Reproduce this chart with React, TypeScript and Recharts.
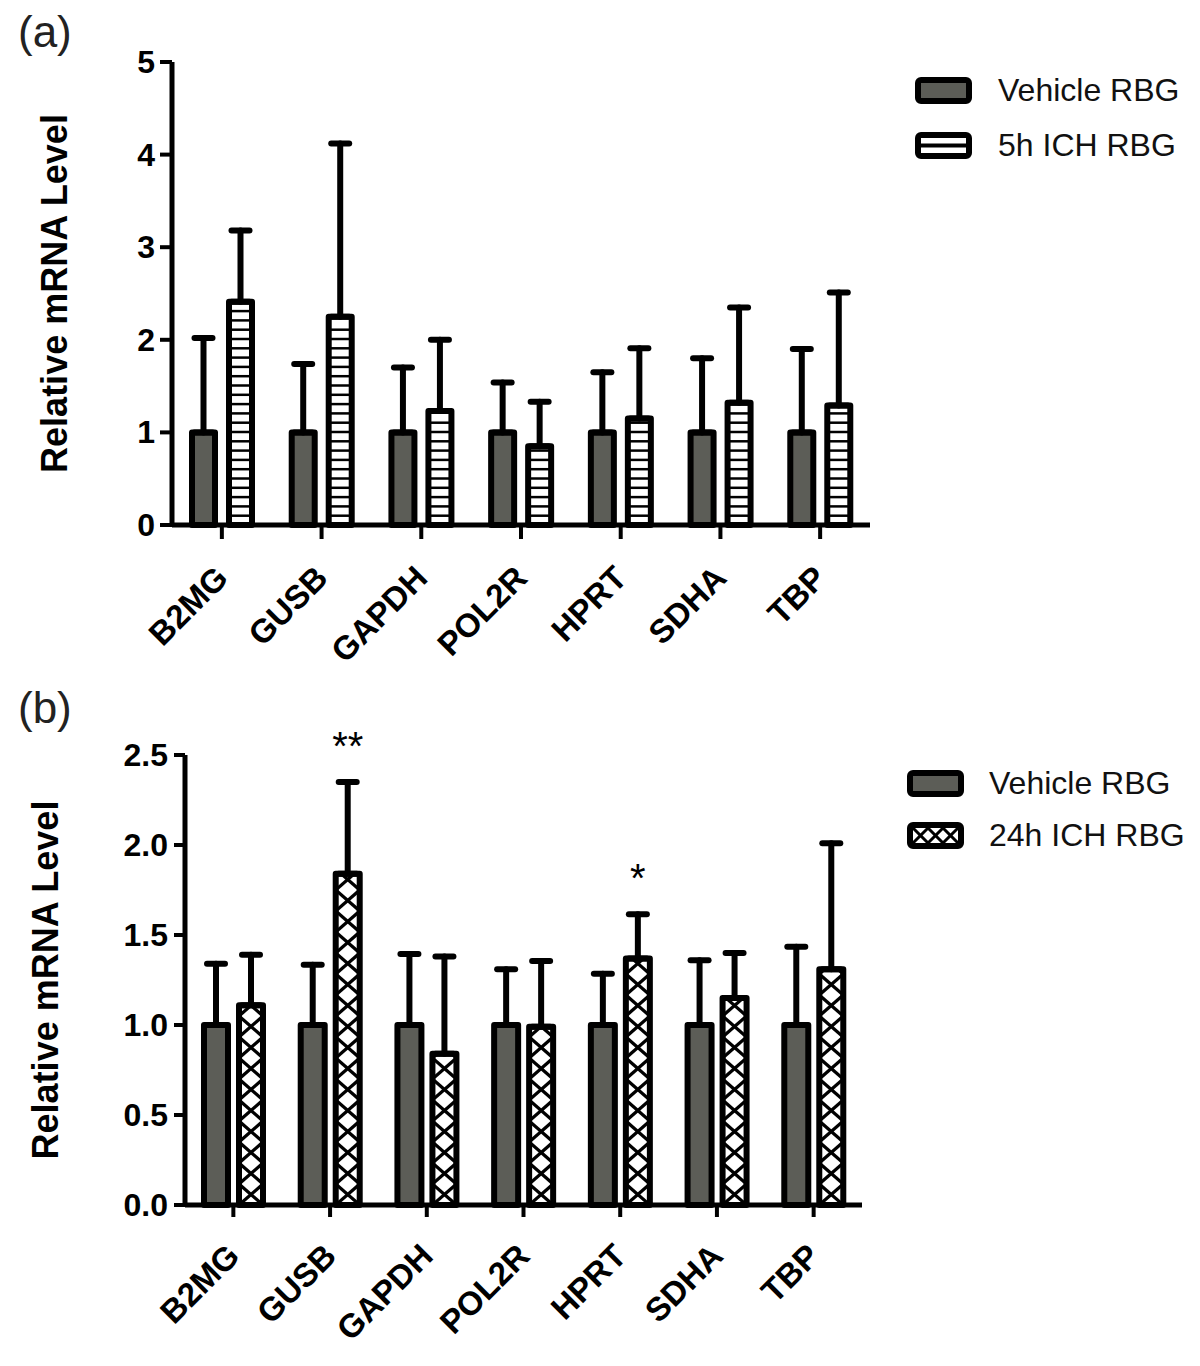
import React from 'react'
import { BarChart, Bar, XAxis, YAxis, ErrorBar, Legend, LabelList } from 'recharts'

const genes = ['B2MG', 'GUSB', 'GAPDH', 'POL2R', 'HPRT', 'SDHA', 'TBP']

// (a) vehicle vs 5h ICH
const vehicleA = [1, 1, 1, 1, 1, 1, 1]
const vehicleErrA = [1.02, 0.74, 0.7, 0.54, 0.65, 0.8, 0.9]
const ich5h = [2.41, 2.25, 1.23, 0.85, 1.15, 1.32, 1.29]
const ich5hErr = [0.77, 1.87, 0.77, 0.48, 0.76, 1.03, 1.22]

// (b) vehicle vs 24h ICH
const vehicleB = [1, 1, 1, 1, 1, 1, 1]
const vehicleErrB = [0.34, 0.335, 0.395, 0.31, 0.285, 0.36, 0.435]
const ich24h = [1.11, 1.84, 0.84, 0.99, 1.37, 1.15, 1.31]
const ich24hErr = [0.28, 0.51, 0.54, 0.365, 0.245, 0.25, 0.7]
const sig24h = ['', '**', '', '', '*', '', '']

const ticksA = [0, 1, 2, 3, 4, 5]
const ticksB = [0, 0.5, 1, 1.5, 2, 2.5]

const FONT = '"Liberation Sans", Arial, Helvetica, sans-serif'
const GREY = '#5c5d57'

const dataA = genes.map((g, i) => ({
    gene: g,
    vehicle: vehicleA[i],
    vehicleErr: [0, vehicleErrA[i]],
    ich: ich5h[i],
    ichErr: [0, ich5hErr[i]],
}))

const dataB = genes.map((g, i) => ({
    gene: g,
    vehicle: vehicleB[i],
    vehicleErr: [0, vehicleErrB[i]],
    ich: ich24h[i],
    ichErr: [0, ich24hErr[i]],
    sig: sig24h[i],
}))

function VehicleBar(props: any) {
    const { x, y, width, height } = props
    if (!height) return null
    return (
        <rect x={x} y={y} width={width} height={height} fill={GREY} stroke="#000" strokeWidth={6} strokeLinejoin="round" />
    )
}

function StripeBar(props: any) {
    const { x, y, width, height } = props
    if (!height) return null
    const bottom = y + height
    const lines = []
    for (let ly = bottom - 9.3; ly > y + 4; ly -= 9.3) {
        lines.push(<line key={ly} x1={x} x2={x + width} y1={ly} y2={ly} stroke="#000" strokeWidth={2.5} />)
    }
    return (
        <g>
            <rect x={x} y={y} width={width} height={height} fill="#fff" />
            {lines}
            <rect x={x} y={y} width={width} height={height} fill="none" stroke="#000" strokeWidth={6} strokeLinejoin="round" />
        </g>
    )
}

function CrossBar(props: any) {
    const { x, y, width, height, index } = props
    if (!height) return null
    const bottom = y + height
    const p = 21
    const id = `xclip-${index}`
    const lines = []
    for (let k = 0; bottom - k * p > y - p; k++) {
        const y0 = bottom - k * p
        const y1 = y0 - p
        lines.push(<line key={`a${k}`} x1={x} y1={y0} x2={x + width} y2={y1} stroke="#000" strokeWidth={3.2} />)
        lines.push(<line key={`b${k}`} x1={x + width} y1={y0} x2={x} y2={y1} stroke="#000" strokeWidth={3.2} />)
    }
    return (
        <g>
            <defs>
                <clipPath id={id}>
                    <rect x={x} y={y} width={width} height={height} />
                </clipPath>
            </defs>
            <rect x={x} y={y} width={width} height={height} fill="#fff" />
            <g clipPath={`url(#${id})`}>{lines}</g>
            <rect x={x} y={y} width={width} height={height} fill="none" stroke="#000" strokeWidth={6} strokeLinejoin="round" />
        </g>
    )
}

function GeneTick(props: any) {
    const { x, y, payload } = props
    return (
        <text
            transform={`translate(${x + 8},${y + 37}) rotate(-45)`}
            textAnchor="end"
            fontSize={33}
            fontWeight="bold"
            fontFamily={FONT}
            fill="#000"
        >
            {payload.value}
        </text>
    )
}

function makeValueTick(fmt: (v: number) => string) {
    return (props: any) => {
        const { x, y, payload } = props
        return (
            <text x={x} y={y} dy={11} textAnchor="end" fontSize={32} fontWeight="bold" fontFamily={FONT} fill="#000">
                {fmt(payload.value)}
            </text>
        )
    }
}

function yTitle(x: number) {
    return (props: any) => {
        const vb = props.viewBox
        const cy = vb.y + vb.height / 2
        return (
            <text
                x={x}
                y={cy}
                transform={`rotate(-90, ${x}, ${cy})`}
                textAnchor="middle"
                fontSize={36}
                fontWeight="bold"
                fontFamily={FONT}
                fill="#000"
            >
                Relative mRNA Level
            </text>
        )
    }
}

function Swatch({ kind }: { kind: string }) {
    return (
        <svg width={57} height={27} style={{ display: 'block' }}>
            {kind === 'vehicle' && <rect x={3} y={3} width={51} height={21} rx={3} fill={GREY} stroke="#000" strokeWidth={6} />}
            {kind === 'stripe' && (
                <g>
                    <rect x={3} y={3} width={51} height={21} rx={3} fill="#fff" stroke="#000" strokeWidth={6} />
                    <line x1={4} x2={53} y1={13.5} y2={13.5} stroke="#000" strokeWidth={4} />
                </g>
            )}
            {kind === 'cross' && (
                <g>
                    <rect x={3} y={3} width={51} height={21} rx={3} fill="#fff" stroke="#000" strokeWidth={6} />
                    <g stroke="#000" strokeWidth={3}>
                        <line x1={6} y1={6} x2={21} y2={21} />
                        <line x1={21} y1={6} x2={6} y2={21} />
                        <line x1={21} y1={6} x2={36} y2={21} />
                        <line x1={36} y1={6} x2={21} y2={21} />
                        <line x1={36} y1={6} x2={51} y2={21} />
                        <line x1={51} y1={6} x2={36} y2={21} />
                    </g>
                </g>
            )}
        </svg>
    )
}

function makeLegend(second: string, gap: number, rowGap: number) {
    return (props: any) => {
        const items = [...(props.payload || [])].sort((a: any, b: any) =>
            a.dataKey === 'vehicle' ? -1 : b.dataKey === 'vehicle' ? 1 : 0
        )
        return (
            <div style={{ fontFamily: FONT }}>
                {items.map((item: any, i: number) => (
                    <div key={item.value} style={{ display: 'flex', alignItems: 'center', height: 30, marginBottom: i === 0 ? rowGap : 0 }}>
                        <Swatch kind={item.dataKey === 'vehicle' ? 'vehicle' : second} />
                        <span style={{ marginLeft: gap, fontSize: 32, color: '#111', lineHeight: '30px' }}>{item.value}</span>
                    </div>
                ))}
            </div>
        )
    }
}

function SigLabel(props: any) {
    const { x, y, width, height, index } = props
    const mark = sig24h[index]
    if (!mark) return null
    const pxPerUnit = height / ich24h[index]
    const capY = y - ich24hErr[index] * pxPerUnit
    return (
        <text x={x + width / 2} y={capY - 22} textAnchor="middle" fontSize={40} fontFamily={FONT} fill="#000">
            {mark}
        </text>
    )
}

const errProps = { width: 9, stroke: '#000', strokeWidth: 6, strokeLinecap: 'round' as const, direction: 'y' as const }

export default function App() {
    return (
        <div style={{ position: 'absolute', left: 0, top: 0, width: 1200, height: 1366, background: '#fff', fontFamily: FONT }}>
            <div style={{ position: 'absolute', left: 18, top: 10, fontSize: 44, lineHeight: '44px', color: '#222' }}>(a)</div>
            <div style={{ position: 'absolute', left: 18, top: 686, fontSize: 44, lineHeight: '44px', color: '#222' }}>(b)</div>

            <div style={{ position: 'absolute', left: 0, top: 0 }}>
                <BarChart width={1200} height={680} data={dataA} margin={{ top: 62, right: 330, bottom: 95, left: 112 }} barSize={23} barGap={14}>
                    <XAxis
                        dataKey="gene"
                        height={60}
                        tick={<GeneTick />}
                        tickSize={14}
                        tickMargin={4}
                        axisLine={{ stroke: '#000', strokeWidth: 5 }}
                        tickLine={{ stroke: '#000', strokeWidth: 4 }}
                        interval={0}
                    />
                    <YAxis
                        width={60}
                        domain={[0, 5]}
                        ticks={ticksA}
                        tick={makeValueTick((v) => String(v))}
                        tickSize={12}
                        tickMargin={5}
                        axisLine={{ stroke: '#000', strokeWidth: 5 }}
                        tickLine={{ stroke: '#000', strokeWidth: 4 }}
                        label={{ content: yTitle(67) }}
                    />
                    <Legend
                        layout="horizontal"
                        verticalAlign="middle"
                        align="center"
                        wrapperStyle={{ left: 915, top: 75, width: 285 }}
                        content={makeLegend('stripe', 26, 25)}
                    />
                    <Bar dataKey="vehicle" name="Vehicle RBG" fill={GREY} shape={<VehicleBar />} isAnimationActive={false}>
                        <ErrorBar dataKey="vehicleErr" {...errProps} />
                    </Bar>
                    <Bar dataKey="ich" name="5h ICH RBG" fill="#fff" shape={<StripeBar />} isAnimationActive={false}>
                        <ErrorBar dataKey="ichErr" {...errProps} />
                    </Bar>
                </BarChart>
            </div>

            <div style={{ position: 'absolute', left: 0, top: 680 }}>
                <BarChart width={1200} height={686} data={dataB} margin={{ top: 75, right: 338, bottom: 101, left: 115 }} barSize={24} barGap={11}>
                    <XAxis
                        dataKey="gene"
                        height={60}
                        tick={<GeneTick />}
                        tickSize={12}
                        tickMargin={4}
                        axisLine={{ stroke: '#000', strokeWidth: 5 }}
                        tickLine={{ stroke: '#000', strokeWidth: 4 }}
                        interval={0}
                    />
                    <YAxis
                        width={70}
                        domain={[0, 2.5]}
                        ticks={ticksB}
                        tick={makeValueTick((v) => v.toFixed(1))}
                        tickSize={11}
                        tickMargin={6}
                        axisLine={{ stroke: '#000', strokeWidth: 5 }}
                        tickLine={{ stroke: '#000', strokeWidth: 4 }}
                        label={{ content: yTitle(58) }}
                    />
                    <Legend
                        layout="horizontal"
                        verticalAlign="middle"
                        align="center"
                        wrapperStyle={{ left: 907, top: 88, width: 293 }}
                        content={makeLegend('cross', 25, 22)}
                    />
                    <Bar dataKey="vehicle" name="Vehicle RBG" fill={GREY} shape={<VehicleBar />} isAnimationActive={false}>
                        <ErrorBar dataKey="vehicleErr" {...errProps} />
                    </Bar>
                    <Bar dataKey="ich" name="24h ICH RBG" fill="#fff" shape={<CrossBar />} isAnimationActive={false}>
                        <ErrorBar dataKey="ichErr" {...errProps} />
                        <LabelList dataKey="sig" content={<SigLabel />} />
                    </Bar>
                </BarChart>
            </div>
        </div>
    )
}
